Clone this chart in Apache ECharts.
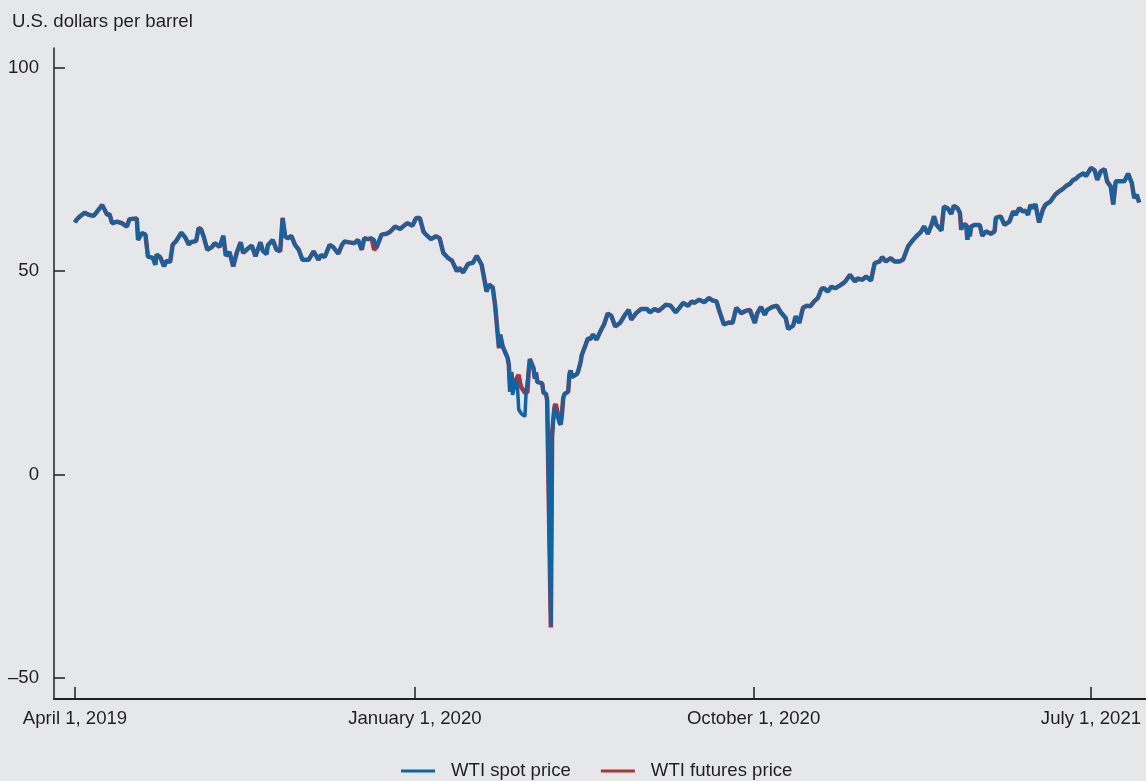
<!DOCTYPE html>
<html>
<head>
<meta charset="utf-8">
<script src="https://cdn.jsdelivr.net/npm/echarts@6/dist/echarts.min.js"></script>
<style>
  html, body { margin: 0; padding: 0; background: #e6e7e8; }
  #chart { width: 1146px; height: 781px; }
</style>
</head>
<body>
<div id="chart"></div>
<script>
// Days after April 1, 2019 for each observation
const dayOffsets = [
  0,1,4,8,11,15,18,22,26,28,
  30,34,38,42,44,50,51,54,57,59,
  63,65,66,69,72,74,77,79,82,86,
  89,92,94,98,100,102,104,107,111,113,
  117,120,122,125,128,131,134,136,140,143,
  146,150,152,155,156,160,163,166,168,170,
  172,175,178,181,184,189,193,197,199,202,
  206,209,213,216,218,222,226,229,232,234,
  237,240,242,244,248,252,255,259,263,267,
  269,273,276,279,282,284,288,292,295,298,
  302,305,309,311,314,318,322,325,329,333,
  335,338,340,343,344,345,346,347,350,351,
  352,353,354,357,358,359,360,361,364,365,
  366,367,368,371,372,373,374,378,379,380,
  381,382,385,386,387,388,389,392,393,394,
  395,396,399,400,401,402,403,406,407,408,
  409,410,413,414,415,416,417,419,422,424,
  426,428,431,434,437,441,445,448,450,454,
  458,463,465,469,472,476,478,482,486,489,
  492,496,499,501,505,509,513,516,519,521,
  525,529,532,535,539,543,546,550,552,555,
  558,560,564,568,571,575,577,581,583,586,
  589,592,595,598,601,604,606,609,612,615,
  620,623,627,631,633,637,640,644,647,651,
  653,656,660,663,667,670,674,678,682,684,
  687,690,693,695,697,701,703,706,709,711,
  714,716,717,718,721,722,723,724,725,728,
  732,734,737,741,744,745,749,752,756,759,
  761,764,767,769,771,773,775,777,780,783,
  785,789,793,796,799,802,805,807,810,812,
  816,818,822,825,827,830,833,835,838,840,
  842,846,849,852,855,857,859,861
];

const spotPrice = [
  62.0,62.6,63.5,64.4,63.9,63.6,64.7,66.3,63.9,64.0,
  61.8,62.2,61.8,61.0,62.8,63.0,57.7,59.4,59.0,53.6,
  53.3,51.6,54.1,53.4,51.2,52.5,52.3,56.5,57.5,59.5,
  58.4,56.6,57.2,57.4,60.6,60.3,58.6,55.3,56.0,56.9,
  56.0,58.7,53.8,54.7,51.2,54.7,57.1,54.5,55.6,56.3,
  53.7,57.1,55.0,54.2,56.4,57.7,55.3,54.9,63.1,58.6,
  58.1,58.7,56.5,55.3,52.8,52.8,54.9,52.8,54.0,53.5,
  56.5,55.9,54.3,56.5,57.3,57.1,56.9,57.7,55.3,58.1,
  57.9,58.1,57.8,55.9,59.0,59.2,59.7,61.0,60.4,61.4,
  61.8,61.2,63.1,63.1,59.7,59.0,57.9,58.6,58.1,54.5,
  53.2,52.6,50.0,50.8,49.7,51.8,52.1,53.8,51.6,45.0,
  46.7,46.0,41.3,31.1,34.4,33.0,31.5,31.7,28.7,26.9,
  20.4,25.1,19.6,23.3,21.4,16.0,15.5,15.0,14.3,20.5,
  20.3,25.3,28.4,26.1,23.6,25.1,22.8,22.4,20.1,19.9,
  19.9,18.3,-37.0,8.9,13.6,16.5,16.9,12.8,12.3,15.1,
  18.8,19.8,20.4,24.6,25.6,24.0,23.6,24.7,25.3,25.3,
  27.6,29.4,31.8,31.7,33.5,33.9,33.3,34.4,33.2,34.5,
  35.8,36.9,39.6,39.0,36.4,37.3,39.3,40.5,38.1,39.7,
  40.7,40.7,39.9,40.7,40.2,41.2,41.8,41.5,39.9,41.0,
  42.2,41.5,42.6,42.2,43.0,42.4,43.4,42.8,42.6,40.5,
  36.9,37.4,37.3,41.0,39.7,40.3,40.5,37.3,39.7,41.2,
  39.3,40.5,41.2,41.5,39.9,38.5,35.8,36.6,38.9,37.3,
  41.0,41.5,41.4,42.6,43.4,45.7,45.8,45.0,46.2,45.8,
  46.7,47.4,49.1,47.5,48.2,47.9,48.7,47.7,52.0,52.4,
  53.5,52.4,53.2,52.4,52.4,52.9,56.1,57.7,59.0,59.5,
  61.0,59.2,61.4,63.5,61.4,60.0,65.9,65.5,64.1,66.1,
  65.5,64.3,60.2,61.4,61.5,57.7,61.2,58.6,61.0,61.4,
  61.4,58.7,59.8,59.2,59.8,63.1,63.5,61.4,62.2,64.7,
  63.9,65.5,64.7,64.9,63.9,66.3,65.5,66.5,62.0,65.1,
  66.3,67.1,68.8,69.6,70.2,71.0,71.5,72.3,72.8,73.4,
  74.1,73.4,75.4,74.8,72.5,74.6,75.1,72.1,70.8,66.4,
  72.1,72.1,72.1,74.0,71.7,68.0,68.8,66.9
];

const futuresPrice = [
  62.0,62.6,63.5,64.4,63.9,63.6,64.7,66.3,63.9,64.0,
  61.8,62.2,61.8,61.0,62.8,63.0,57.7,59.4,59.0,53.6,
  53.3,51.6,54.1,53.4,51.2,52.5,52.3,56.5,57.5,59.5,
  58.4,56.6,57.2,57.4,60.6,60.3,58.6,55.3,56.0,56.9,
  56.0,58.7,53.8,54.7,51.2,54.7,57.1,54.5,55.6,56.3,
  53.7,57.1,55.0,54.2,56.4,57.7,55.3,54.9,63.1,58.6,
  58.1,58.7,56.5,55.3,52.8,52.8,54.9,52.8,54.0,53.5,
  56.5,55.9,54.3,56.5,57.3,57.1,56.9,57.7,55.3,58.1,
  57.9,58.1,55.3,55.9,59.0,59.2,59.7,61.0,60.4,61.4,
  61.8,61.2,63.1,63.1,59.7,59.0,57.9,58.6,58.1,54.5,
  53.2,52.6,50.0,50.8,49.7,51.8,52.1,53.8,51.6,45.0,
  46.7,46.0,41.3,31.1,34.4,33.0,31.5,31.7,28.7,26.9,
  20.4,25.2,22.4,23.4,24.0,24.5,22.6,21.5,20.1,20.5,
  20.3,25.3,28.4,26.1,23.6,25.1,22.8,22.4,20.1,19.9,
  19.9,18.3,-37.6,10.0,13.8,16.8,17.3,12.8,12.3,15.1,
  18.8,19.8,20.4,24.6,25.6,24.0,23.6,24.7,25.3,25.3,
  27.6,29.4,31.8,31.7,33.5,33.9,33.3,34.4,33.2,34.5,
  35.8,36.9,39.6,39.0,36.4,37.3,39.3,40.5,38.1,39.7,
  40.7,40.7,39.9,40.7,40.2,41.2,41.8,41.5,39.9,41.0,
  42.2,41.5,42.6,42.2,43.0,42.4,43.4,42.8,42.6,40.5,
  36.9,37.4,37.3,41.0,39.7,40.3,40.5,37.3,39.7,41.2,
  39.3,40.5,41.2,41.5,39.9,38.5,35.8,36.6,38.9,37.3,
  41.0,41.5,41.4,42.6,43.4,45.7,45.8,45.0,46.2,45.8,
  46.7,47.4,49.1,47.5,48.2,47.9,48.7,47.7,52.0,52.4,
  53.5,52.4,53.2,52.4,52.4,52.9,56.1,57.7,59.0,59.5,
  61.0,59.2,61.4,63.5,61.4,60.0,65.9,65.5,64.1,66.1,
  65.5,64.3,60.2,61.4,61.5,57.7,61.2,58.6,61.0,61.4,
  61.4,58.7,59.8,59.2,59.8,63.1,63.5,61.4,62.2,64.7,
  63.9,65.5,64.7,64.9,63.9,66.3,65.5,66.5,62.0,65.1,
  66.3,67.1,68.8,69.6,70.2,71.0,71.5,72.3,72.8,73.4,
  74.1,73.4,75.4,74.8,72.5,74.6,75.1,72.1,70.8,66.4,
  72.1,72.1,72.1,74.0,71.7,68.0,68.8,66.9
];

// x-axis ticks (days after April 1, 2019) and their labels
const xTickDays = [0, 275, 549, 822];
const xTickLabels = ['April 1, 2019', 'January 1, 2020', 'October 1, 2020', 'July 1, 2021'];
const yTickValues = [-50, 0, 50, 100];
const seriesNames = ['WTI spot price', 'WTI futures price'];
const yAxisTitle = 'U.S. dollars per barrel';

const FONT = '"Liberation Sans", Arial, Helvetica, sans-serif';
const FS = 18.6;
const TEXT = '#231f20';
const BLUE = '#0b66a8';
const RED = '#b1303a';

const spotData = dayOffsets.map((d, i) => [d, spotPrice[i]]);
const futData = dayOffsets.map((d, i) => [d, futuresPrice[i]]);

const chart = echarts.init(document.getElementById('chart'), null, { renderer: 'canvas' });
chart.setOption({
  backgroundColor: '#e6e7e8',
  animation: false,
  textStyle: { fontFamily: FONT, color: TEXT },
  title: {
    text: yAxisTitle,
    left: 12, top: 12, padding: 0,
    textStyle: { fontFamily: FONT, fontSize: FS, fontWeight: 'normal', color: TEXT }
  },
  grid: { left: 54, right: 0, top: 48, bottom: 82, containLabel: false },
  legend: {
    data: [
      { name: seriesNames[0], icon: 'rect' },
      { name: seriesNames[1], icon: 'rect' }
    ],
    left: 401, top: 761, padding: 0,
    itemWidth: 34, itemHeight: 3, itemGap: 30,
    textStyle: { fontFamily: FONT, fontSize: FS, lineHeight: 20, color: TEXT, padding: [0, 0, 0, 11] }
  },
  xAxis: {
    type: 'value',
    min: -17, max: 866.5,
    splitLine: { show: false },
    axisLine: { show: true, onZero: false, lineStyle: { color: '#231f20', width: 2 } },
    axisTick: { show: true, inside: true, length: 12, customValues: xTickDays, lineStyle: { color: '#231f20', width: 1.5 } },
    axisLabel: {
      customValues: xTickDays,
      margin: 10,
      fontFamily: FONT, fontSize: FS, color: TEXT,
      formatter: v => { const k = xTickDays.indexOf(v); return k >= 0 ? xTickLabels[k] : ''; }
    }
  },
  yAxis: {
    type: 'value',
    min: -55.2, max: 104.9,
    splitLine: { show: false },
    axisLine: { show: true, onZero: false, lineStyle: { color: '#231f20', width: 1.5 } },
    axisTick: { show: true, inside: true, length: 11, customValues: yTickValues, lineStyle: { color: '#231f20', width: 1.5 } },
    axisLabel: {
      customValues: yTickValues,
      margin: 15,
      fontFamily: FONT, fontSize: FS, color: TEXT,
      formatter: v => String(v).replace('-', '\u2013')
    }
  },
  series: [
    {
      name: seriesNames[1], type: 'line', data: futData, showSymbol: false, z: 2,
      lineStyle: { color: RED, width: 4.5 }, itemStyle: { color: RED }
    },
    {
      name: seriesNames[0], type: 'line', data: spotData, showSymbol: false, z: 3,
      lineStyle: { color: BLUE, width: 3.5 }, itemStyle: { color: BLUE }
    }
  ]
});
</script>
</body>
</html>
